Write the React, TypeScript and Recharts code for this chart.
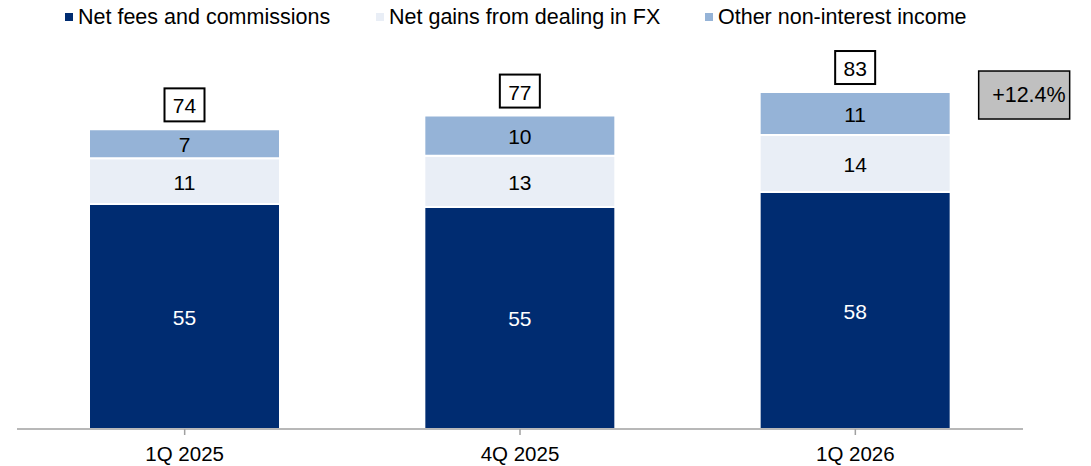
import React from 'react';
import { BarChart, Bar, XAxis, YAxis, LabelList } from 'recharts';

const categories = ['1Q 2025', '4Q 2025', '1Q 2026'];
const netFees = [55.4, 54.7, 58.4];
const fxGains = [11.3, 12.6, 14.0];
const otherIncome = [7.1, 9.9, 10.6];
const totals = [74, 77, 83];
const growthLabel = '+12.4%';

const seriesNames = ['Net fees and commissions', 'Net gains from dealing in FX', 'Other non-interest income'];
const colors = ['#002C71', '#E9EEF6', '#95B3D7'];

const data = categories.map((c, i) => ({
  name: c,
  fees: netFees[i],
  fx: fxGains[i],
  other: otherIncome[i],
  total: totals[i],
}));

const FONT = '"Liberation Sans", Arial, sans-serif';

const TopLabel = (props: any) => {
  const { x, y, width, index } = props;
  const cx = x + width / 2;
  const bw = 40;
  const bh = 33;
  const top = y - 8 - bh;
  const last = index === data.length - 1;
  return (
    <g>
      <rect x={cx - bw / 2} y={top} width={bw} height={bh} fill="#ffffff" stroke="#000000" strokeWidth={2} />
      <text x={cx} y={top + bh / 2 + 1} textAnchor="middle" dominantBaseline="central" fontFamily={FONT} fontSize={21} fill="#000">
        {data[index].total}
      </text>
      {last && (
        <g>
          <rect x={x + width + 28} y={y - 21} width={91} height={48} fill="#C0C0C0" stroke="#000000" strokeWidth={1.5} />
          <text x={x + width + 28 + 87} y={y - 21 + 24} textAnchor="end" dominantBaseline="central" fontFamily={FONT} fontSize={21.5} fill="#000">
            {growthLabel}
          </text>
        </g>
      )}
    </g>
  );
};

const InnerLabel = (color: string) => (props: any) => {
  const { x, y, width, height, value } = props;
  return (
    <text x={x + width / 2} y={y + height / 2 + 1} textAnchor="middle" dominantBaseline="central" fontFamily={FONT} fontSize={21} fill={color}>
      {Math.round(value)}
    </text>
  );
};

const legendPos = [
  { sq: 65 },
  { sq: 376 },
  { sq: 705 },
];

export default function App() {
  return (
    <div style={{ position: 'absolute', left: 0, top: 0, width: 1091, height: 466, background: '#fff', fontFamily: FONT }}>
      {seriesNames.map((n, i) => (
        <div key={n} style={{ position: 'absolute', top: 3, left: legendPos[i].sq, height: 28, display: 'flex', alignItems: 'center' }}>
          <div style={{ width: 8, height: 8, background: colors[i], marginRight: 5 }} />
          <span style={{ fontSize: 21.5, color: '#000', whiteSpace: 'nowrap' }}>{n}</span>
        </div>
      ))}
      <BarChart
        width={1091}
        height={466}
        data={data}
        margin={{ top: 23, right: 68, left: 17, bottom: 0 }}
        barSize={191}
      >
        <YAxis hide domain={[0, 100]} />
        <XAxis
          dataKey="name"
          height={37}
          axisLine={{ stroke: '#A0A0A0', strokeWidth: 1.5 }}
          tickLine={{ stroke: '#A0A0A0', strokeWidth: 1.5 }}
          tickSize={6}
          interval={0}
          tick={{ fontFamily: FONT, fontSize: 20.5, fill: '#000' }}
          tickMargin={11}
        />
        <Bar dataKey="fees" stackId="a" fill={colors[0]} stroke="#fff" strokeWidth={2} isAnimationActive={false}>
          <LabelList dataKey="fees" content={InnerLabel('#ffffff')} />
        </Bar>
        <Bar dataKey="fx" stackId="a" fill={colors[1]} stroke="#fff" strokeWidth={2} isAnimationActive={false}>
          <LabelList dataKey="fx" content={InnerLabel('#000000')} />
        </Bar>
        <Bar dataKey="other" stackId="a" fill={colors[2]} stroke="#fff" strokeWidth={2} isAnimationActive={false}>
          <LabelList dataKey="other" content={InnerLabel('#000000')} />
          <LabelList dataKey="total" content={TopLabel} />
        </Bar>
      </BarChart>
    </div>
  );
}
